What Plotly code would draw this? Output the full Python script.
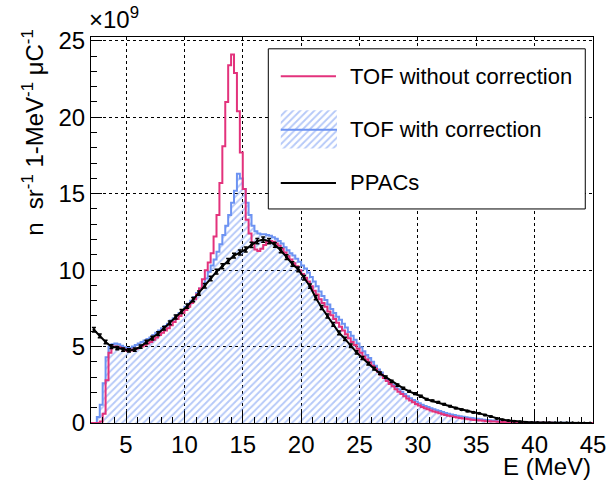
import numpy as np
import plotly.graph_objects as go

# energy binning of the TOF histograms (MeV)
E_MIN, E_MAX, BIN_W = 2.0, 45.0, 0.25
# PPAC points are 0.5 MeV bins
PPAC_W = 0.5
Y_MAX = 25.25

# units of 1e9 n sr^-1 MeV^-1 uC^-1, one value per 0.25 MeV bin from 2 MeV
tof_raw = [
    0.0, 0.0, 0.0, 0.1, 0.6, 2.8, 4.6, 5.0,
    5.0, 4.95, 4.9, 4.8, 4.75, 4.75, 4.8, 4.85,
    4.9, 5.0, 5.1, 5.2, 5.3, 5.45, 5.6, 5.75,
    5.9, 6.05, 6.2, 6.4, 6.6, 6.8, 7.0, 7.2,
    7.4, 7.6, 7.85, 8.1, 8.4, 8.8, 9.4, 10.0,
    10.5, 11.1, 12.2, 13.6, 15.7, 18.1, 21.0, 23.4,
    24.1, 22.9, 20.4, 17.7, 15.3, 13.3, 12.4, 11.8,
    11.35, 11.25, 11.4, 11.65, 11.85, 11.9, 11.85, 11.75,
    11.6, 11.4, 11.15, 10.9, 10.7, 10.45, 10.25, 10.0,
    9.75, 9.5, 9.25, 8.95, 8.65, 8.4, 8.1, 7.85,
    7.6, 7.3, 7.05, 6.8, 6.55, 6.3, 6.05, 5.8,
    5.55, 5.3, 5.1, 4.85, 4.6, 4.35, 4.15, 3.95,
    3.75, 3.55, 3.35, 3.15, 2.95, 2.75, 2.55, 2.4,
    2.2, 2.05, 1.9, 1.75, 1.6, 1.48, 1.36, 1.25,
    1.15, 1.05, 0.97, 0.9, 0.82, 0.76, 0.7, 0.64,
    0.58, 0.53, 0.48, 0.44, 0.4, 0.36, 0.33, 0.3,
    0.27, 0.24, 0.22, 0.2, 0.18, 0.16, 0.14, 0.12,
    0.11, 0.1, 0.09, 0.08, 0.07, 0.06, 0.05, 0.05,
    0.04, 0.04, 0.03, 0.03, 0.03, 0.02, 0.02, 0.02,
    0.02, 0.01, 0.01, 0.01, 0.01, 0.01, 0.0, 0.0,
    0.0, 0.0, 0.0, 0.0, 0.0, 0.0, 0.0, 0.0,
    0.0, 0.0, 0.0, 0.0,
]

tof_corr = [
    0.0, 0.0, 0.4, 1.2, 2.6, 4.3, 5.0, 5.15,
    5.2, 5.15, 5.05, 4.95, 4.9, 4.9, 5.0, 5.1,
    5.2, 5.3, 5.4, 5.5, 5.6, 5.75, 5.9, 6.05,
    6.2, 6.35, 6.5, 6.7, 6.85, 7.05, 7.2, 7.4,
    7.6, 7.8, 8.0, 8.25, 8.5, 8.8, 9.1, 9.45,
    9.9, 10.3, 10.7, 11.2, 11.7, 12.3, 12.9, 13.6,
    14.4, 15.2, 16.3, 16.0, 15.3, 14.4, 13.6, 12.9,
    12.55, 12.4, 12.35, 12.35, 12.3, 12.25, 12.15, 12.05,
    11.9, 11.75, 11.5, 11.3, 11.1, 10.95, 10.75, 10.55,
    10.3, 10.1, 9.85, 9.55, 9.25, 8.95, 8.6, 8.3,
    8.05, 7.75, 7.45, 7.2, 6.95, 6.75, 6.5, 6.25,
    5.95, 5.7, 5.45, 5.2, 4.95, 4.7, 4.45, 4.25,
    4.0, 3.75, 3.5, 3.3, 3.05, 2.85, 2.65, 2.5,
    2.35, 2.2, 2.05, 1.9, 1.75, 1.62, 1.5, 1.4,
    1.3, 1.2, 1.12, 1.04, 0.96, 0.9, 0.84, 0.78,
    0.72, 0.66, 0.61, 0.56, 0.52, 0.48, 0.44, 0.41,
    0.38, 0.35, 0.32, 0.29, 0.27, 0.24, 0.22, 0.2,
    0.18, 0.16, 0.14, 0.12, 0.11, 0.1, 0.09, 0.08,
    0.07, 0.06, 0.05, 0.05, 0.04, 0.04, 0.03, 0.03,
    0.03, 0.02, 0.02, 0.02, 0.02, 0.01, 0.01, 0.01,
    0.01, 0.01, 0.01, 0.01, 0.0, 0.0, 0.0, 0.0,
    0.0, 0.0, 0.0, 0.0,
]

# PPACs, 0.5 MeV bins starting at 2 MeV
ppac = [
    6.1, 5.7, 5.3, 5.0, 4.9, 4.8, 4.75, 4.8,
    5.0, 5.3, 5.55, 5.85, 6.2, 6.55, 6.93, 7.3,
    7.65, 8.07, 8.5, 8.98, 9.45, 9.9, 10.25, 10.6,
    10.95, 11.15, 11.35, 11.65, 11.9, 12.0, 11.9, 11.65,
    11.3, 10.85, 10.4, 10.05, 9.5, 8.95, 8.2, 7.55,
    7.0, 6.45, 5.9, 5.5, 5.05, 4.62, 4.25, 3.88,
    3.55, 3.25, 3.0, 2.72, 2.48, 2.27, 2.07, 1.92,
    1.75, 1.55, 1.45, 1.35, 1.22, 1.1, 0.98, 0.87,
    0.78, 0.7, 0.63, 0.52, 0.42, 0.3, 0.22, 0.16,
    0.12, 0.08, 0.05, 0.04, 0.03, 0.02, 0.02, 0.01,
    0.01, 0.01, 0.01, 0.0, 0.0, 0.0,
]

ppac_err = [
    0.15, 0.13, 0.12, 0.12, 0.11, 0.11, 0.11, 0.11,
    0.11, 0.11, 0.12, 0.12, 0.12, 0.13, 0.13, 0.13,
    0.14, 0.14, 0.14, 0.15, 0.15, 0.15, 0.16, 0.16,
    0.16, 0.16, 0.16, 0.17, 0.17, 0.17, 0.17, 0.16,
    0.16, 0.16, 0.15, 0.15, 0.15, 0.14, 0.14, 0.13,
    0.13, 0.12, 0.12, 0.11, 0.11, 0.1, 0.1, 0.09,
    0.09, 0.08, 0.08, 0.07, 0.07, 0.07, 0.06, 0.06,
    0.06, 0.05, 0.05, 0.05, 0.05, 0.04, 0.04, 0.04,
    0.04, 0.04, 0.03, 0.03, 0.03, 0.03, 0.02, 0.02,
    0.02, 0.02, 0.02, 0.01, 0.01, 0.01, 0.01, 0.01,
    0.01, 0.01, 0.01, 0.0, 0.0, 0.0,
]

labels = ["TOF without correction", "TOF with correction", "PPACs"]

PINK = "#e3327c"
BLUE = "#6d93f2"
FONT = "Liberation Sans"

edges = np.arange(E_MIN, E_MAX + BIN_W / 2, BIN_W)
centres = np.arange(E_MIN + PPAC_W / 2, E_MAX, PPAC_W)
assert len(edges) == len(tof_raw) + 1 == len(tof_corr) + 1
assert len(centres) == len(ppac) == len(ppac_err)


def steps(vals):
    # left edges + closing right edge for an 'hv' staircase
    return edges, list(vals) + [vals[-1]]


def to_data(fx, fy):
    # fraction of the plot frame -> data coordinates (legend drawing only)
    return E_MIN + fx * (E_MAX - E_MIN), fy * Y_MAX


def box(fx0, fy0, fx1, fy1):
    x0, y0 = to_data(fx0, fy0)
    x1, y1 = to_data(fx1, fy1)
    return [x0, x1, x1, x0, x0], [y0, y0, y1, y1, y0]


hatch = dict(shape="/", fgcolor=BLUE, bgcolor="rgba(0,0,0,0)",
             size=5, solidity=0.38)

fig = go.Figure()

x, y = steps(tof_corr)
fig.add_trace(go.Scatter(
    x=x, y=y, mode="lines", line=dict(color=BLUE, width=2, shape="hv"),
    fill="tozeroy", fillcolor="rgba(0,0,0,0)", fillpattern=hatch,
    showlegend=False))

x, y = steps(tof_raw)
fig.add_trace(go.Scatter(
    x=x, y=y, mode="lines", line=dict(color=PINK, width=2, shape="hv"),
    showlegend=False))

fig.add_trace(go.Scatter(
    x=centres, y=ppac, mode="lines+markers",
    line=dict(color="black", width=2),
    marker=dict(color="black", size=3),
    error_y=dict(type="data", array=ppac_err, color="black",
                 thickness=1.5, width=2),
    showlegend=False))

# legend background (white, hides grid) and hatched sample box
lx, ly = box(0.3532, 0.5545, 0.9846, 0.9694)
fig.add_trace(go.Scatter(
    x=lx, y=ly, mode="lines", line=dict(width=1, color="black"),
    fill="toself", fillcolor="white", hoverinfo="skip", showlegend=False))
hx, hy = box(0.378, 0.711, 0.490, 0.810)
fig.add_trace(go.Scatter(
    x=hx, y=hy, mode="lines", line=dict(width=0, color=BLUE),
    fill="toself", fillcolor="rgba(0,0,0,0)", fillpattern=hatch,
    hoverinfo="skip", showlegend=False))
for col, fy, fx1 in [(PINK, 0.8983, 0.488), (BLUE, 0.760, 0.490),
                     ("black", 0.6218, 0.488)]:
    sx, sy = to_data(0.378, fy)
    ex, _ = to_data(fx1, fy)
    fig.add_trace(go.Scatter(
        x=[sx, ex], y=[sy, sy], mode="lines", line=dict(color=col, width=2),
        hoverinfo="skip", showlegend=False))

axis_common = dict(
    ticks="inside", tickcolor="black", tickwidth=1,
    showgrid=True, gridcolor="black", griddash="dot", gridwidth=1,
    showline=True, linecolor="black", linewidth=1, mirror=True,
    zeroline=False, ticklabeloverflow="allow",
    tickfont=dict(family=FONT, size=24, color="black"),
)

fig.update_layout(
    width=606, height=480,
    margin=dict(l=91, r=13, t=37, b=57, autoexpand=False),
    paper_bgcolor="white", plot_bgcolor="white",
    font=dict(family=FONT, color="black"),
    xaxis=dict(range=[E_MIN, E_MAX], tick0=0, dtick=5, ticklen=12,
               minor=dict(dtick=1, ticks="inside", ticklen=6,
                          tickcolor="black", showgrid=False),
               **axis_common),
    yaxis=dict(range=[0, Y_MAX], tick0=0, dtick=5, ticklen=11,
               minor=dict(dtick=1, ticks="inside", ticklen=6,
                          tickcolor="black", showgrid=False),
               **axis_common),
)

annotations = []
for lab, yy in zip(labels, [0.8983, 0.760, 0.6218]):
    annotations.append(dict(
        text=lab, xref="x domain", yref="y domain", x=0.5127, y=yy,
        xanchor="left", yanchor="middle", showarrow=False,
        font=dict(family=FONT, size=22, color="black")))

annotations += [
    dict(text="E (MeV)", xref="paper", yref="paper", x=1.0, y=-0.112,
         xanchor="right", yanchor="middle", showarrow=False,
         font=dict(family=FONT, size=24, color="black")),
    dict(text="n  sr<sup>-1</sup> 1-MeV<sup>-1</sup> \u03bcC<sup>-1</sup>",
         xref="paper", yref="paper", x=-0.1155, y=1.025, textangle=-90,
         xanchor="center", yanchor="top", showarrow=False,
         font=dict(family=FONT, size=24, color="black")),
    dict(text="\u00d710<sup>9</sup>", xref="paper", yref="paper",
         x=-0.008, y=1.004, xanchor="left", yanchor="bottom", showarrow=False,
         font=dict(family=FONT, size=24, color="black")),
]
fig.update_layout(annotations=annotations)

# drop the browser's default 8px body margin so the figure fills the window
fig.write_html("out.html", config={"displayModeBar": False},
               post_script="document.body.style.margin='0';")
